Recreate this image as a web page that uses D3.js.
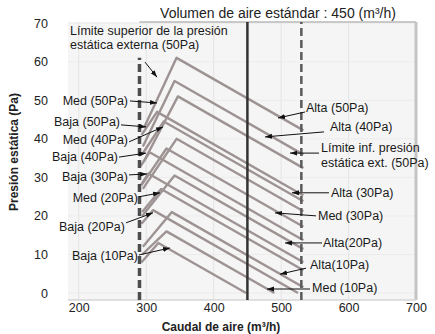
<!DOCTYPE html>
<html>
<head>
<meta charset="utf-8">
<script src="https://cdn.jsdelivr.net/npm/d3@7"></script>
<style>
    body { margin: 0; background: #fff; }
    svg { display: block; font-family: "Liberation Sans", Arial, sans-serif; }
</style>
</head>
<body>
<svg id="chart"></svg>
<script>
// ticks
const xTicks = [200, 300, 400, 500, 600, 700];
const yTicks = [0, 10, 20, 30, 40, 50, 60, 70];

// reference flows (m3/h)
const standardFlow = 450;
const limitFlows = [290, 530];

// fan curves: [caudal, presion]
const curveNames = ['Alta 50', 'Med 50', 'Alta 40', 'Baja 50', 'Med 40', 'Alta 30', 'Med 30',
    'Baja 40', 'Alta 20', 'Baja 30', 'Med 20', 'Alta 10', 'Baja 20', 'Med 10', 'Baja 10'];
const curvePoints = [
    [[297, 43], [345, 61], [533, 42.2]],
    [[295, 38], [342, 55], [533, 35.9]],
    [[296, 34], [347, 51], [533, 32.4]],
    [[293, 41], [316, 47], [533, 25.3]],
    [[294, 36], [326, 44.5], [533, 23.8]],
    [[295, 27], [345, 40], [533, 21.2]],
    [[293, 28], [330, 37.5], [533, 17.2]],
    [[292, 33], [305, 36.5], [533, 13.7]],
    [[294, 20], [342, 30.5], [533, 11.4]],
    [[292, 28], [303, 31], [533, 8]],
    [[294, 21], [322, 27], [533, 5.9]],
    [[295, 12], [338, 21], [533, 1.5]],
    [[293, 18], [310, 21.5], [525, 0]],
    [[294, 10], [330, 16], [490, 0]],
    [[293, 8], [318, 13], [448, 0]]
];

// callouts: text lines and the point (caudal, presion) the arrow points at
const noteTexts = [
    ['Límite superior de la presión', 'estática externa (50Pa)'],
    ['Med (50Pa)'], ['Baja (50Pa)'], ['Med (40Pa)'], ['Baja (40Pa)'],
    ['Baja (30Pa)'], ['Med (20Pa)'], ['Baja (20Pa)'], ['Baja (10Pa)'],
    ['Alta (50Pa)'], ['Alta (40Pa)'], ['Límite inf. presión', 'estática ext. (50Pa)'],
    ['Alta (30Pa)'], ['Med (30Pa)'], ['Alta(20Pa)'], ['Alta(10Pa)'], ['Med (10Pa)']
];
const noteTargets = [
    [316, 56], [316, 49.3], [299.7, 43.1], [324.9, 43.1], [299.7, 36.3],
    [301.1, 30.9], [320.4, 26], [310, 20.8], [335.2, 11.7],
    [495.4, 45.4], [476.1, 40.5], [513.2, 36.3],
    [516.1, 26], [490.9, 20.8], [505.8, 13], [498.4, 4.9], [479.1, 1.05]
];

// layout of callouts, px offsets from the arrow tip
const noteLayout = [
    {dx: -12, dy: -15, tx: -87, ty: -42, anchor: 'start', lh: 14},
    {dx: -27, dy: -2, tx: -29, ty: 2, anchor: 'end'},
    {dx: -25, dy: -2, tx: -26, ty: -1, anchor: 'end'},
    {dx: -34, dy: 15, tx: -35, ty: 17, anchor: 'end'},
    {dx: -27, dy: 4, tx: -28, ty: 8, anchor: 'end'},
    {dx: -18, dy: 1, tx: -19, ty: 7, anchor: 'end'},
    {dx: -21, dy: 4, tx: -22, ty: 9, anchor: 'end'},
    {dx: -27, dy: 10, tx: -28, ty: 18, anchor: 'end'},
    {dx: -31, dy: 7, tx: -32, ty: 12, anchor: 'end'},
    {dx: 27, dy: -6, tx: 28, ty: -6, anchor: 'start'},
    {dx: 59, dy: -5, tx: 65, ty: -6, anchor: 'start'},
    {dx: 29, dy: 0, tx: 31, ty: -1, anchor: 'start', lh: 14.5},
    {dx: 37, dy: 0, tx: 39, ty: 4, anchor: 'start'},
    {dx: 41, dy: 3, tx: 43, ty: 7, anchor: 'start'},
    {dx: 37, dy: 0, tx: 38, ty: 4, anchor: 'start'},
    {dx: 26, dy: -6, tx: 30, ty: -5, anchor: 'start'},
    {dx: 43, dy: 0, tx: 45, ty: 3, anchor: 'start'}
];

const dims = {width: 435, height: 334, left: 68, right: 416, top: 22, bottom: 300};
let svg, xScale, yScale;

function initGraph() {
    svg = d3.select('#chart')
        .attr('width', dims.width)
        .attr('height', dims.height);

    svg.append('defs').append('marker')
        .attr('id', 'arrow')
        .attr('viewBox', '0 0 10 10')
        .attr('refX', 10)
        .attr('refY', 5)
        .attr('markerWidth', 7)
        .attr('markerHeight', 7)
        .attr('orient', 'auto')
        .append('path')
        .attr('d', 'M0,1.5L10,5L0,8.5Z')
        .attr('fill', '#111');
}

function initScales() {
    xScale = d3.scaleLinear().domain([184, 700]).range([dims.left, dims.right]);
    yScale = d3.scaleLinear().domain([-1.8, 70.3]).range([dims.bottom, dims.top]);
}

function drawFrame() {
    svg.append('rect')
        .attr('x', dims.left)
        .attr('y', dims.top)
        .attr('width', dims.right - dims.left)
        .attr('height', dims.bottom - dims.top)
        .attr('fill', '#f5f5f5');

    svg.append('g').selectAll('line.vgrid')
        .data(xTicks)
        .join('line')
        .attr('x1', d => xScale(d)).attr('x2', d => xScale(d))
        .attr('y1', yScale.range()[0]).attr('y2', yScale.range()[1])
        .attr('stroke', '#e4e4e4')
        .attr('stroke-width', 1);

    svg.append('g').selectAll('line.hgrid')
        .data(yTicks)
        .join('line')
        .attr('x1', dims.left).attr('x2', dims.right)
        .attr('y1', d => yScale(d)).attr('y2', d => yScale(d))
        .attr('stroke', '#ececec')
        .attr('stroke-width', 1);

    // top rule, right shadow, bottom rule
    svg.append('line')
        .attr('x1', xScale(limitFlows[0])).attr('x2', dims.right)
        .attr('y1', dims.top).attr('y2', dims.top)
        .attr('stroke', '#b8b8b8').attr('stroke-width', 1.5);
    svg.append('line')
        .attr('x1', dims.right).attr('x2', dims.right)
        .attr('y1', dims.top).attr('y2', dims.bottom)
        .attr('stroke', '#c4c4c4').attr('stroke-width', 3);
    svg.append('line')
        .attr('x1', dims.left).attr('x2', dims.right)
        .attr('y1', dims.bottom).attr('y2', dims.bottom)
        .attr('stroke', '#d6d6d6').attr('stroke-width', 1.5);
}

function drawAxes() {
    const xAxis = d3.axisBottom(xScale).tickValues(xTicks).tickSize(0).tickPadding(0);
    const yAxis = d3.axisLeft(yScale).tickValues(yTicks).tickSize(0).tickPadding(0);

    const gx = svg.append('g')
        .attr('transform', 'translate(0,303)')
        .call(xAxis);
    const gy = svg.append('g')
        .attr('transform', 'translate(48,0)')
        .call(yAxis);

    [gx, gy].forEach(g => {
        g.select('.domain').remove();
        g.selectAll('text')
            .attr('fill', '#222')
            .style('font-size', '12.5px')
            .style('font-family', '"Liberation Sans", Arial, sans-serif');
    });

    svg.append('text')
        .attr('x', 221)
        .attr('y', 331)
        .attr('text-anchor', 'middle')
        .style('font-size', '12px')
        .style('font-weight', 'bold')
        .attr('fill', '#222')
        .text('Caudal de aire (m³/h)');

    svg.append('text')
        .attr('transform', 'translate(18,152) rotate(-90)')
        .attr('text-anchor', 'middle')
        .style('font-size', '12px')
        .style('font-weight', 'bold')
        .attr('fill', '#222')
        .text('Presión estática (Pa)');

    svg.append('text')
        .attr('x', 278)
        .attr('y', 18)
        .attr('text-anchor', 'middle')
        .style('font-size', '14px')
        .attr('fill', '#222')
        .text('Volumen de aire estándar : 450 (m³/h)');
}

function drawCurves() {
    const line = d3.line()
        .x(function(d) { return xScale(d[0]); })
        .y(function(d) { return yScale(d[1]); });

    svg.append('g').selectAll('path')
        .data(curvePoints)
        .join('path')
        .attr('class', (d, i) => 'curve ' + curveNames[i].replace(' ', '-'))
        .attr('d', line)
        .attr('fill', 'none')
        .attr('stroke', '#9e9393')
        .attr('stroke-width', 2.4)
        .attr('stroke-linejoin', 'round');
}

function drawLimitLines() {
    svg.append('line')
        .attr('x1', xScale(limitFlows[0])).attr('x2', xScale(limitFlows[0]))
        .attr('y1', yScale(-1.8)).attr('y2', yScale(61))
        .attr('stroke', '#4d4d4d')
        .attr('stroke-width', 3.5)
        .attr('stroke-dasharray', '8,4');

    svg.append('line')
        .attr('x1', xScale(limitFlows[1])).attr('x2', xScale(limitFlows[1]))
        .attr('y1', yScale(-1.8)).attr('y2', yScale(70.3))
        .attr('stroke', '#5a5a5a')
        .attr('stroke-width', 2.5)
        .attr('stroke-dasharray', '8,4');

    svg.append('line')
        .attr('x1', xScale(standardFlow)).attr('x2', xScale(standardFlow))
        .attr('y1', yScale(-1.8)).attr('y2', yScale(70.3))
        .attr('stroke', '#333')
        .attr('stroke-width', 2.5);
}

function drawNotes() {
    const g = svg.append('g').attr('class', 'notes');

    noteTexts.forEach(function(lines, i) {
        const tip = [xScale(noteTargets[i][0]), yScale(noteTargets[i][1])];
        const lay = noteLayout[i];

        g.append('line')
            .attr('x1', tip[0] + lay.dx).attr('y1', tip[1] + lay.dy)
            .attr('x2', tip[0]).attr('y2', tip[1])
            .attr('stroke', '#111')
            .attr('stroke-width', 1)
            .attr('marker-end', 'url(#arrow)');

        const t = g.append('text')
            .attr('x', tip[0] + lay.tx)
            .attr('y', tip[1] + lay.ty)
            .attr('text-anchor', lay.anchor)
            .style('font-size', '12.5px')
            .attr('fill', '#1a1a1a');
        lines.forEach(function(s, k) {
            t.append('tspan')
                .attr('x', tip[0] + lay.tx)
                .attr('dy', k === 0 ? 0 : lay.lh)
                .text(s);
        });
    });
}

initGraph();
initScales();
drawFrame();
drawCurves();
drawLimitLines();
drawAxes();
drawNotes();
</script>
</body>
</html>
